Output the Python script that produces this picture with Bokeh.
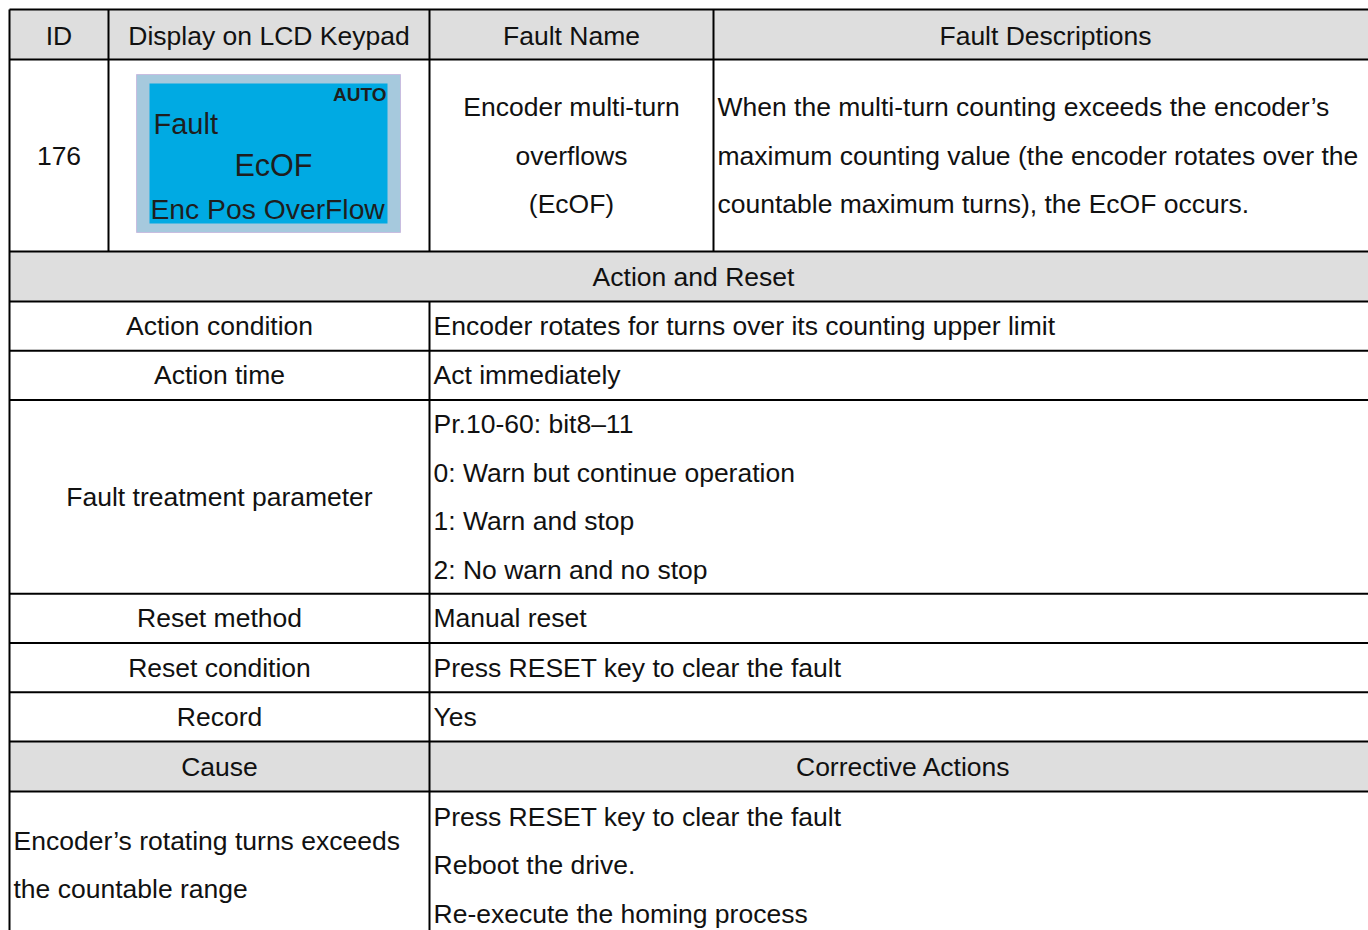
from bokeh.plotting import figure
from bokeh.models import Range1d, ColumnDataSource
from bokeh.core.properties import value
from bokeh.embed import file_html
from bokeh.resources import INLINE

# ---------------- data (table content) ----------------
header_labels = ["ID", "Display on LCD Keypad", "Fault Name", "Fault Descriptions"]
fault_id = "176"
lcd_auto = "AUTO"
lcd_line1 = "Fault"
lcd_code = "EcOF"
lcd_line3 = "Enc Pos OverFlow"
fault_name_lines = ["Encoder multi-turn", "overflows", "(EcOF)"]
description_lines = [
    "When the multi-turn counting exceeds the encoder\u2019s",
    "maximum counting value (the encoder rotates over the",
    "countable maximum turns), the EcOF occurs.",
]
section_title = "Action and Reset"
action_labels = ["Action condition", "Action time", "Fault treatment parameter",
                 "Reset method", "Reset condition", "Record"]
action_values = [
    ["Encoder rotates for turns over its counting upper limit"],
    ["Act immediately"],
    ["Pr.10-60: bit8\u201311", "0: Warn but continue operation",
     "1: Warn and stop", "2: No warn and no stop"],
    ["Manual reset"],
    ["Press RESET key to clear the fault"],
    ["Yes"],
]
cause_headers = ["Cause", "Corrective Actions"]
cause_lines = ["Encoder\u2019s rotating turns exceeds", "the countable range"]
corrective_lines = ["Press RESET key to clear the fault", "Reboot the drive.",
                    "Re-execute the homing process"]

# ---------------- layout ----------------
W, H = 1368, 930
X0, X1, X2, X3, XR = 9, 108, 429, 713, 1377
PITCH = 48.4
FONT = value("Liberation Sans")
FS = "26.5px"
INK = "#111111"
GRAY = "#dedede"

p = figure(width=W, height=H, x_range=Range1d(0, W), y_range=Range1d(H, 0),
           output_backend="svg", toolbar_location=None, min_border=0,
           x_axis_location=None, y_axis_location=None)
p.grid.visible = False
p.outline_line_color = None
p.background_fill_color = "white"
p.border_fill_color = "white"

# row edges
y_head_top, y_head_bot = 9, 59
y_main_bot = 251
y_sec_bot = 301
row_edges = [y_sec_bot]
for vals in action_values:
    h = 49.3 if len(vals) == 1 else PITCH * len(vals)
    row_edges.append(row_edges[-1] + h)
y_cause_top = row_edges[-1]
y_cause_bot = y_cause_top + 50
y_last_bot = y_cause_bot + PITCH * len(corrective_lines) + 2

# gray header bands
p.quad(left=[X0, X0, X0], right=[XR, XR, XR],
       top=[y_head_top, y_main_bot, y_cause_top],
       bottom=[y_head_bot, y_sec_bot, y_cause_bot],
       fill_color=GRAY, line_color=None)

# grid lines
hx0, hx1, hy = [], [], []
for y in [y_head_top, y_head_bot, y_main_bot, y_sec_bot] + row_edges[1:] + [y_cause_bot, y_last_bot]:
    hx0.append(X0); hx1.append(XR); hy.append(y)
p.segment(x0=hx0, x1=hx1, y0=hy, y1=hy, line_color="black", line_width=2)
vx, vy0, vy1 = [], [], []
for x in [X1, X3]:
    vx.append(x); vy0.append(y_head_top); vy1.append(y_main_bot)
vx.append(X2); vy0.append(y_head_top); vy1.append(y_main_bot)
vx.append(X2); vy0.append(y_sec_bot); vy1.append(y_last_bot)
vx.append(X0); vy0.append(y_head_top); vy1.append(y_last_bot)
vx.append(XR); vy0.append(y_head_top); vy1.append(y_last_bot)
p.segment(x0=vx, x1=vx, y0=vy0, y1=vy1, line_color="black", line_width=2)

def put(xs, ys, texts, align="center", size=FS, style="normal", color=INK):
    src = ColumnDataSource(dict(x=xs, y=ys, t=texts))
    p.text(x="x", y="y", text="t", source=src, text_align=align, text_baseline="middle",
           text_font=FONT, text_font_size=size, text_font_style=style, text_color=color)

# header row
col_centers = [(X0 + X1) / 2, (X1 + X2) / 2, (X2 + X3) / 2, (X3 + XR) / 2]
put(col_centers, [35] * 4, header_labels)

# main row
ym = (y_head_bot + y_main_bot) / 2
put([col_centers[0]], [ym], [fault_id])
n = len(fault_name_lines)
ys = [ym + (i - (n - 1) / 2) * PITCH for i in range(n)]
put([col_centers[2]] * n, ys, fault_name_lines)
n = len(description_lines)
ys = [ym + (i - (n - 1) / 2) * PITCH for i in range(n)]
put([X3 + 4] * n, ys, description_lines, align="left")

# LCD picture
p.quad(left=[136], right=[400], top=[74], bottom=[232], fill_color="#a6c9dd",
       line_color="#c8bde0", line_width=1)
p.quad(left=[149], right=[387], top=[83], bottom=[223], fill_color="#00aae3",
       line_color=None)
put([386], [94], [lcd_auto], align="right", size="19px", style="bold", color="#1e1e1e")
put([153], [123], [lcd_line1], align="left", size="29px", color="#1e1e1e")
put([273], [164], [lcd_code], align="center", size="30.5px", color="#1e1e1e")
put([150], [208], [lcd_line3], align="left", size="28.3px", color="#1e1e1e")

# section title
put([(X0 + XR) / 2], [(y_main_bot + y_sec_bot) / 2], [section_title])

# action rows
lx, ly, lt, rx, ry, rt = [], [], [], [], [], []
for i, (lab, vals) in enumerate(zip(action_labels, action_values)):
    top, bot = row_edges[i], row_edges[i + 1]
    lx.append((X0 + X2) / 2); ly.append((top + bot) / 2); lt.append(lab)
    k = len(vals)
    for j, v in enumerate(vals):
        rx.append(X2 + 4); ry.append((top + bot) / 2 + (j - (k - 1) / 2) * PITCH); rt.append(v)
put(lx, ly, lt)
put(rx, ry, rt, align="left")

# cause header
yc = (y_cause_top + y_cause_bot) / 2
put([(X0 + X2) / 2, (X2 + XR) / 2], [yc, yc], cause_headers)

# cause / corrective row
yl = (y_cause_bot + y_last_bot) / 2
n = len(cause_lines)
put([X0 + 4] * n, [yl + (i - (n - 1) / 2) * PITCH for i in range(n)], cause_lines, align="left")
n = len(corrective_lines)
put([X2 + 4] * n, [yl + (i - (n - 1) / 2) * PITCH for i in range(n)], corrective_lines, align="left")

open("out.html", "w").write(file_html(p, INLINE))
